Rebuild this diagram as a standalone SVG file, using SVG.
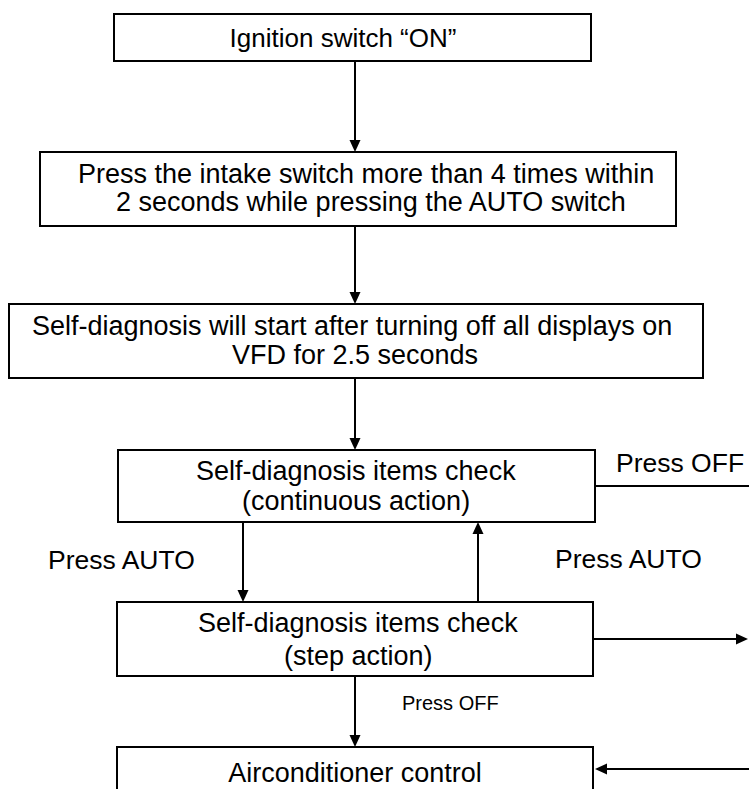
<svg xmlns="http://www.w3.org/2000/svg" width="749" height="789" viewBox="0 0 749 789">
<style>
  .box { fill: #ffffff; stroke: #000000; stroke-width: 2; }
  .t { font-family: "Liberation Sans", Arial, sans-serif; font-size: 27px; fill: #000000; }
  .t1 { font-family: "Liberation Sans", Arial, sans-serif; font-size: 26px; fill: #000000; }
  .lbl { font-family: "Liberation Sans", Arial, sans-serif; font-size: 26.5px; fill: #000000; }
  .sm { font-family: "Liberation Sans", Arial, sans-serif; font-size: 20px; fill: #000000; }
  .c { text-anchor: middle; }
  .ln { fill: none; stroke: #000000; stroke-width: 2; }
  .arr { marker-end: url(#ah); }
</style>
<defs>
  <marker id="ah" viewBox="0 0 12 12" refX="10" refY="6" markerWidth="12" markerHeight="12" markerUnits="userSpaceOnUse" orient="auto">
    <path d="M0,0.5 L12,6 L0,11.5 z" fill="#000000"/>
  </marker>
</defs>
<rect width="749" height="789" fill="#ffffff"/>

<g id="connectors">
  <line class="ln arr" x1="355" y1="61" x2="355" y2="150"/>
  <line class="ln arr" x1="355" y1="226" x2="355" y2="302"/>
  <line class="ln arr" x1="355" y1="378" x2="355" y2="448"/>
  <line class="ln arr" x1="243" y1="522" x2="243" y2="600"/>
  <line class="ln arr" x1="478" y1="602" x2="478" y2="524"/>
  <line class="ln" x1="595" y1="486" x2="749" y2="486"/>
  <line class="ln arr" x1="593" y1="639" x2="746" y2="639"/>
  <line class="ln arr" x1="355" y1="676" x2="355" y2="745"/>
  <line class="ln arr" x1="749" y1="769" x2="597" y2="769"/>
  <text class="lbl" x="48" y="569">Press AUTO</text>
  <text class="lbl" x="555" y="568">Press AUTO</text>
  <text class="lbl" x="616" y="472">Press OFF</text>
  <text class="sm" x="402" y="710">Press OFF</text>
</g>

<g id="n1">
  <rect class="box" x="114" y="14" width="477" height="47"/>
  <text class="t1 c" x="343" y="47">Ignition switch “ON”</text>
</g>

<g id="n2">
  <rect class="box" x="40" y="152" width="636" height="74"/>
  <text class="t" x="78" y="183">Press the intake switch more than 4 times within</text>
  <text class="t" x="116" y="211">2 seconds while pressing the AUTO switch</text>
</g>

<g id="n3">
  <rect class="box" x="9" y="304" width="694" height="74"/>
  <text class="t" x="32" y="335">Self-diagnosis will start after turning off all displays on</text>
  <text class="t c" x="355" y="364">VFD for 2.5 seconds</text>
</g>

<g id="n4">
  <rect class="box" x="118" y="450" width="477" height="72"/>
  <text class="t" x="196" y="480">Self-diagnosis items check</text>
  <text class="t" x="242" y="510">(continuous action)</text>
</g>

<g id="n5">
  <rect class="box" x="117" y="602" width="476" height="74"/>
  <text class="t" x="198" y="632">Self-diagnosis items check</text>
  <text class="t" x="284" y="665">(step action)</text>
</g>

<g id="n6">
  <rect class="box" x="117" y="747" width="476" height="60"/>
  <text class="t c" x="355" y="782">Airconditioner control</text>
</g>
</svg>
